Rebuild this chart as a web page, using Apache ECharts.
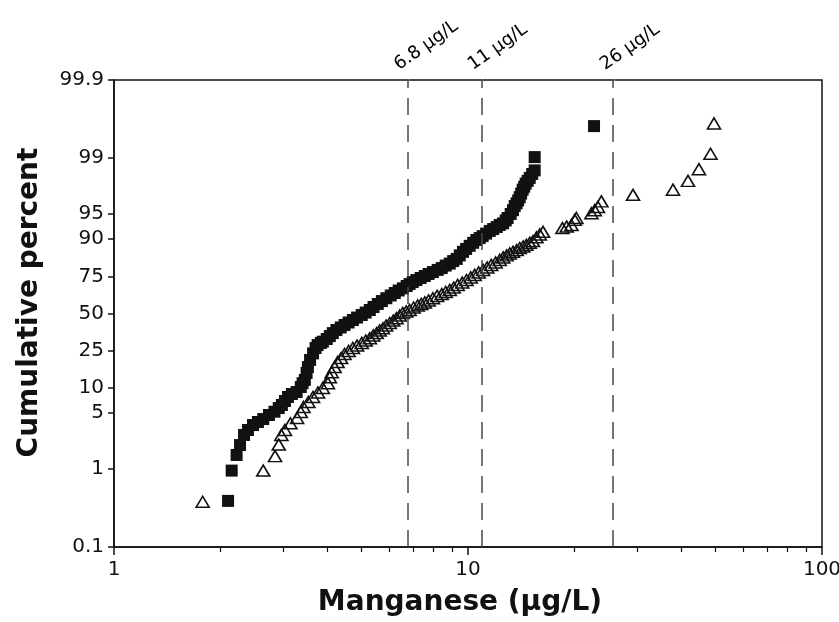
<!DOCTYPE html>
<html><head><meta charset="utf-8">
<script src="https://cdn.jsdelivr.net/npm/echarts@6/dist/echarts.min.js"></script>
<style>html,body{margin:0;padding:0;background:#fff}#chart{width:839px;height:622px}</style>
</head><body><div id="chart"></div>
<script>
// Data: [manganese µg/L, cumulative percent]
const squareSeries = [[2.10,0.39],[2.15,0.95],[2.22,1.5],[2.27,2.0],[2.33,2.68],[2.39,3.09],[2.47,3.56],[2.55,3.88],[2.64,4.22],[2.74,4.73],[2.84,5.19],[2.92,5.75],[2.98,6.26],[3.04,6.99],[3.10,7.8],[3.18,8.46],[3.28,8.93],[3.37,10.2],[3.41,11.3],[3.46,12.3],[3.50,14.7],[3.53,17.0],[3.58,20.2],[3.65,23.5],[3.71,26.5],[3.76,28.2],[3.84,29.5],[3.89,30.3],[3.99,32.0],[4.07,33.9],[4.15,35.9],[4.25,38.0],[4.37,39.8],[4.48,41.6],[4.60,43.4],[4.73,45.2],[4.86,47.0],[5.01,48.9],[5.14,50.7],[5.28,52.6],[5.41,54.8],[5.56,57.0],[5.71,59.1],[5.88,61.1],[6.05,63.0],[6.21,64.7],[6.37,66.4],[6.55,67.8],[6.71,69.3],[6.84,70.5],[6.98,71.7],[7.15,72.9],[7.35,74.1],[7.55,75.2],[7.74,76.3],[7.96,77.3],[8.21,78.4],[8.43,79.3],[8.65,80.5],[8.88,81.4],[9.08,82.5],[9.29,83.4],[9.48,84.8],[9.68,86.1],[9.88,87.1],[10.11,88.1],[10.34,89.0],[10.56,89.8],[10.79,90.3],[11.0,90.8],[11.25,91.4],[11.52,92.0],[11.78,92.4],[12.05,92.8],[12.29,93.2],[12.56,93.5],[12.78,94.0],[12.94,94.4],[13.20,95.0],[13.40,95.5],[13.55,96.0],[13.72,96.3],[13.86,96.6],[14.0,96.9],[14.13,97.2],[14.27,97.5],[14.41,97.7],[14.55,97.9],[14.74,98.06],[14.94,98.22],[15.18,98.41],[15.43,98.57],[15.43,99.03],[22.7,99.61]];
const triangleSeries = [[1.78,0.38],[2.64,0.95],[2.85,1.45],[2.92,2.03],[2.97,2.68],[3.04,3.09],[3.15,3.74],[3.29,4.35],[3.37,5.15],[3.43,5.92],[3.54,6.8],[3.65,7.8],[3.77,8.81],[3.89,9.94],[4.02,11.3],[4.07,13.2],[4.12,15.0],[4.20,17.0],[4.28,19.2],[4.38,21.1],[4.48,23.2],[4.60,24.8],[4.73,26.5],[4.86,27.9],[5.01,29.5],[5.14,31.0],[5.28,32.5],[5.40,34.3],[5.52,35.9],[5.63,37.7],[5.75,39.2],[5.87,41.2],[6.01,43.0],[6.15,44.8],[6.28,46.5],[6.41,48.5],[6.54,50.4],[6.69,51.5],[6.84,52.6],[7.02,54.4],[7.21,55.9],[7.38,57.0],[7.55,58.1],[7.74,59.5],[7.96,61.1],[8.18,62.7],[8.43,64.0],[8.65,65.4],[8.88,66.7],[9.11,68.3],[9.35,69.9],[9.63,71.4],[9.90,72.9],[10.18,74.4],[10.44,75.8],[10.72,77.1],[11.03,78.4],[11.33,79.6],[11.63,80.8],[11.97,81.9],[12.29,83.0],[12.57,84.0],[12.86,84.8],[13.12,85.5],[13.40,86.1],[13.72,86.7],[14.0,87.4],[14.32,87.9],[14.62,88.4],[14.94,89.0],[15.26,89.5],[15.61,90.5],[15.95,91.2],[16.29,91.8],[18.48,92.6],[19.0,92.9],[19.6,93.2],[20.02,94.1],[20.24,94.4],[22.32,95.1],[22.8,95.5],[23.29,95.9],[23.81,96.5],[29.25,97.1],[37.94,97.5],[41.83,98.06],[44.91,98.62],[48.42,99.12],[49.53,99.64]];
const thresholds = [6.8, 11, 26];
const thresholdLabels = ['6.8 µg/L', '11 µg/L', '26 µg/L'];
const yTickValues = [0.1, 1, 5, 10, 25, 50, 75, 90, 95, 99, 99.9];
const yTickLabels = ['0.1', '1', '5', '10', '25', '50', '75', '90', '95', '99', '99.9'];
const xMajorTicks = [1, 10, 100];
const xMajorLabels = ['1', '10', '100'];
const xMinorTicks = [2, 3, 4, 5, 6, 7, 8, 9, 20, 30, 40, 50, 60, 70, 80, 90];

const lg = v => Math.log10(v);
const logit = p => Math.log((p / 100) / (1 - p / 100));
const yMin = logit(yTickValues[0]);
const yMax = logit(yTickValues[yTickValues.length - 1]);
const nearestIndex = (arr, v) => { let b = 0; arr.forEach((a, i) => { if (Math.abs(a - v) < Math.abs(arr[b] - v)) b = i; }); return b; };

const ink = '#111';
const font = 'DejaVu Sans';
const chart = echarts.init(document.getElementById('chart'));
chart.setOption({
  animation: false,
  backgroundColor: '#fff',
  textStyle: { fontFamily: font },
  grid: { left: 114, right: 17, top: 80, bottom: 75, show: true, borderColor: ink, borderWidth: 1.5, backgroundColor: 'transparent', outerBoundsMode: 'none', containLabel: false },
  xAxis: [
    { type: 'value', min: lg(xMajorTicks[0]), max: lg(xMajorTicks[2]), interval: 1, position: 'bottom',
      name: 'Manganese (µg/L)', nameLocation: 'middle', nameGap: 42,
      nameTextStyle: { fontSize: 28, fontWeight: 'bold', color: ink, fontFamily: font, padding: [0, 16, 0, 0] },
      axisLine: { show: true, onZero: false, lineStyle: { color: ink, width: 1.5 } },
      axisTick: { show: true, length: 8, lineStyle: { color: ink, width: 1.5 } },
      axisLabel: { margin: 13, fontSize: 20, color: ink, fontFamily: font,
        formatter: v => xMajorLabels[nearestIndex(xMajorTicks.map(lg), v)] },
      splitLine: { show: false } },
    { type: 'value', min: lg(xMajorTicks[0]), max: lg(xMajorTicks[2]), position: 'bottom',
      axisLine: { show: false, onZero: false }, axisLabel: { show: false },
      axisTick: { show: true, length: 5, customValues: xMinorTicks.map(lg), lineStyle: { color: ink, width: 1.2 } },
      splitLine: { show: false } }
  ],
  yAxis: [{ type: 'value', min: yMin, max: yMax,
    name: 'Cumulative percent', nameLocation: 'middle', nameGap: 70,
    nameTextStyle: { fontSize: 28, fontWeight: 'bold', color: ink, fontFamily: font, padding: [0, 0, 0, 22] },
    axisLine: { show: true, onZero: false, lineStyle: { color: ink, width: 1.5 } },
    axisTick: { show: true, length: 6, customValues: yTickValues.map(logit), lineStyle: { color: ink, width: 1.5 } },
    axisLabel: { margin: 10, fontSize: 20, color: ink, fontFamily: font, customValues: yTickValues.map(logit),
      formatter: v => yTickLabels[nearestIndex(yTickValues.map(logit), v)] },
    splitLine: { show: false } }],
  series: [
    { type: 'scatter', name: 'squares', symbol: 'rect', symbolSize: 12,
      itemStyle: { color: '#111', opacity: 1 },
      data: squareSeries.map(d => [lg(d[0]), logit(d[1])]) },
    { type: 'scatter', name: 'triangles', symbol: 'triangle', symbolSize: [13, 11],
      itemStyle: { color: 'rgba(255,255,255,0)', borderColor: '#111', borderWidth: 1.6, opacity: 1 },
      data: triangleSeries.map(d => [lg(d[0]), logit(d[1])]) },
    { type: 'scatter', name: 'thresholds', symbolSize: 1, silent: true,
      itemStyle: { color: '#fff', opacity: 1 },
      data: thresholds.map(v => [lg(v), yMax]),
      label: { show: true, formatter: p => thresholdLabels[p.dataIndex], position: [-12, -13],
        align: 'left', verticalAlign: 'middle', rotate: 35, fontSize: 18, color: '#000', opacity: 1,
        textBorderWidth: 0, fontFamily: font },
      markLine: { silent: true, symbol: ['none', 'none'], animation: false,
        label: { show: false },
        lineStyle: { type: [17, 10], color: '#4a4a4a', width: 1.5, opacity: 1 },
        data: thresholds.map(v => ({ xAxis: lg(v) })) } }
  ]
});
</script></body></html>
